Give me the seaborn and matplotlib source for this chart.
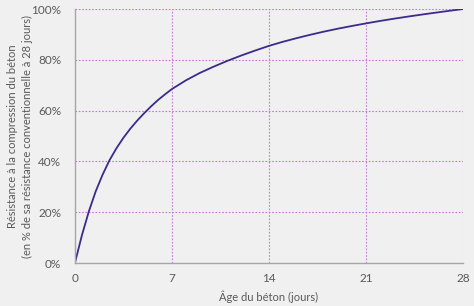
import matplotlib
matplotlib.use("Agg")
import matplotlib.pyplot as plt
import seaborn as sns
import pandas as pd
from matplotlib.ticker import FuncFormatter

# Data
days = [0, 0.5, 1, 1.5, 2, 2.5, 3, 3.5, 4, 4.5, 5, 5.5, 6, 6.5, 7,
        8, 9, 10, 11, 12, 13, 14, 15, 16, 17, 18, 19, 20, 21,
        22, 23, 24, 25, 26, 27, 28]
strength = [0, 10.8, 20.2, 28.2, 34.8, 40.5, 45.2, 49.3, 52.9, 56.1, 59.0, 61.7, 64.2, 66.4, 68.5,
            71.9, 74.8, 77.3, 79.6, 81.7, 83.65, 85.5, 87.1, 88.55, 89.9, 91.15, 92.3, 93.35, 94.35,
            95.3, 96.18, 97.01, 97.8, 98.56, 99.29, 100]
x_ticks = [0, 7, 14, 21, 28]
y_ticks = [0, 20, 40, 60, 80, 100]

df = pd.DataFrame({"jours": days, "resistance": strength})

sns.set_theme(style="white")
plt.rcParams["font.family"] = ["Lato", "DejaVu Sans"]

bg = "#F0F0F0"
txt = "#595959"
fig = plt.figure(figsize=(4.74, 3.06), dpi=100, facecolor=bg)
ax = fig.add_axes([0.158, 0.1405, 0.819, 0.830])
ax.set_facecolor(bg)

sns.lineplot(data=df, x="jours", y="resistance", ax=ax, color="#3C2A8C", linewidth=1.3)

ax.set_xlim(0, 28)
ax.set_ylim(0, 100)
ax.set_xticks(x_ticks)
ax.set_yticks(y_ticks)
ax.yaxis.set_major_formatter(FuncFormatter(lambda v, p: f"{int(v)}%"))

grid_kw = dict(color="#C27CCF", linestyle=(0, (1.5, 1.5)), linewidth=0.8, zorder=0)
for v in y_ticks[1:]:
    ax.axhline(v, **grid_kw)
for v in x_ticks[1:]:
    ax.axvline(v, **grid_kw)

for s in ["top", "right"]:
    ax.spines[s].set_visible(False)
for s in ["left", "bottom"]:
    ax.spines[s].set_color("#A6A6A6")
    ax.spines[s].set_linewidth(1.0)

ax.tick_params(axis="y", length=0, labelsize=8.5, labelcolor=txt, pad=10)
ax.tick_params(axis="x", length=0, labelsize=8.5, labelcolor=txt, pad=7)
ax.set_xlabel("Âge du béton (jours)", fontsize=8, color=txt, labelpad=5)
ax.set_ylabel("Résistance à la compression du béton\n(en % de sa résistance conventionnelle à 28 jours)",
              fontsize=8, color=txt, linespacing=1.4)
ax.yaxis.set_label_coords(-0.108, 0.5)

fig.savefig("out.png", dpi=100, facecolor=bg)
